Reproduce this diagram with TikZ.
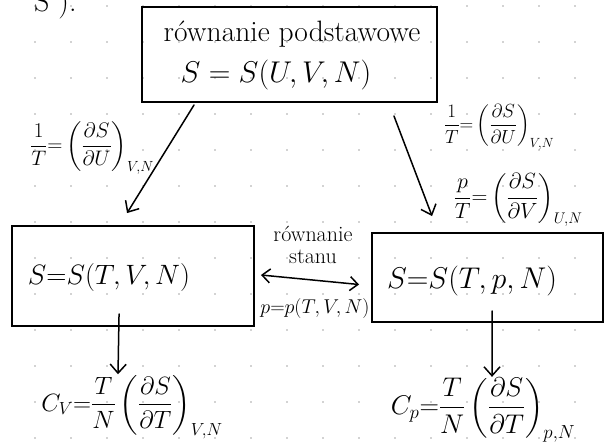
\RequirePackage{fix-cm}
\documentclass[tikz,border=0pt]{standalone}
\usepackage{amsmath}
\usepackage{xcolor}
\usepackage{tikz}
\usetikzlibrary{positioning, arrows.meta}

\newcommand{\hand}[1]{\fontsize{#1}{#1}\selectfont}

\begin{document}
\begin{tikzpicture}[x=1pt, y=-1pt, line width=1.5pt, line cap=round,
    box/.style={draw, line width=1.9pt, inner sep=0pt},
    eq/.style={inner sep=0pt},
    arr/.style={-{Straight Barb[length=9pt, width=16pt]}},
    darr/.style={{Straight Barb[length=8pt, width=14pt]}-{Straight Barb[length=8pt, width=14pt]}},
    gridpt/.style={fill=gray!70}]
    \useasboundingbox (0,0) rectangle (607,447);
    \clip (0,0) rectangle (607,447);
    % dotted paper
    \foreach \gx in {35,71,...,575}
      \foreach \gy in {6,42,...,438}
        \fill[gridpt] (\gx,\gy) circle (0.9pt);
    \node[anchor=base west, font=\hand{30}] (head) at (30,11) {S ).};

    % boxes
    \node[box, minimum width=295pt, minimum height=95pt] (basic) at (289.5,54.5) {};
    \node[box, minimum width=242pt, minimum height=100pt] (vbox) at (133,276) {};
    \node[box, minimum width=231pt, minimum height=89pt] (pbox) at (487.5,277.5) {};

    \node[anchor=base, font=\hand{29.5}] (basiclab) at (292,41) {równanie podstawowe};
    \node[anchor=base, font=\hand{30}] (basiceq) at (276,82) {$S = S(U,V,N)$};
    \node[anchor=base, font=\hand{28}] (veq) at (109,284) {$S{=}S(T,V,N)$};
    \node[anchor=base, font=\hand{30}] (peq) at (472,288) {$S{=}S(T,p,N)$};

    % derivatives
    \node[eq, font=\hand{21}] (lderiv) at (92,148)
      {$\dfrac{1}{T}{=}\left(\dfrac{\partial S}{\partial U}\right)_{V,N}$};
    \node[eq, font=\hand{19}] (rderiv) at (499,127)
      {$\dfrac{1}{T}{=}\left(\dfrac{\partial S}{\partial U}\right)_{V,N}$};
    \node[eq, font=\hand{22}] (pderiv) at (518,200)
      {$\dfrac{p}{T}{=}\left(\dfrac{\partial S}{\partial V}\right)_{U,N}$};

    % equation of state
    \node[align=center, font=\hand{22}, inner sep=0pt] (state) at (313,245) {równanie\\stanu};
    \node[anchor=base, font=\hand{20}] (eos) at (315,313) {$p{=}p(T,V,N)$};

    % heat capacities
    \node[eq, font=\hand{25}] (cv) at (132,407)
      {$C_V{=}\dfrac{T}{N}\left(\dfrac{\partial S}{\partial T}\right)_{V,N}$};
    \node[eq, font=\hand{27}] (cp) at (483,410)
      {$C_p{=}\dfrac{T}{N}\left(\dfrac{\partial S}{\partial T}\right)_{p,N}$};

    % connectors
    \draw[arr] ([xshift=53pt,yshift=-2pt]basic.south west) -- ([xshift=116pt,yshift=12pt]vbox.north west);
    \draw[arr] ([xshift=-44pt,yshift=-13pt]basic.south east) -- ([xshift=61pt,yshift=16pt]pbox.north west);
    \draw[darr] ([xshift=6pt,yshift=1pt]vbox.east) -- ([xshift=-12pt,yshift=-7pt]pbox.west);
    \draw[arr] ([xshift=108pt,yshift=13pt]vbox.south west) -- ([xshift=-14pt]cv.north);
    \draw[arr] ([xshift=121pt,yshift=12pt]pbox.south west) -- ([xshift=9pt]cp.north);
\end{tikzpicture}
\end{document}
